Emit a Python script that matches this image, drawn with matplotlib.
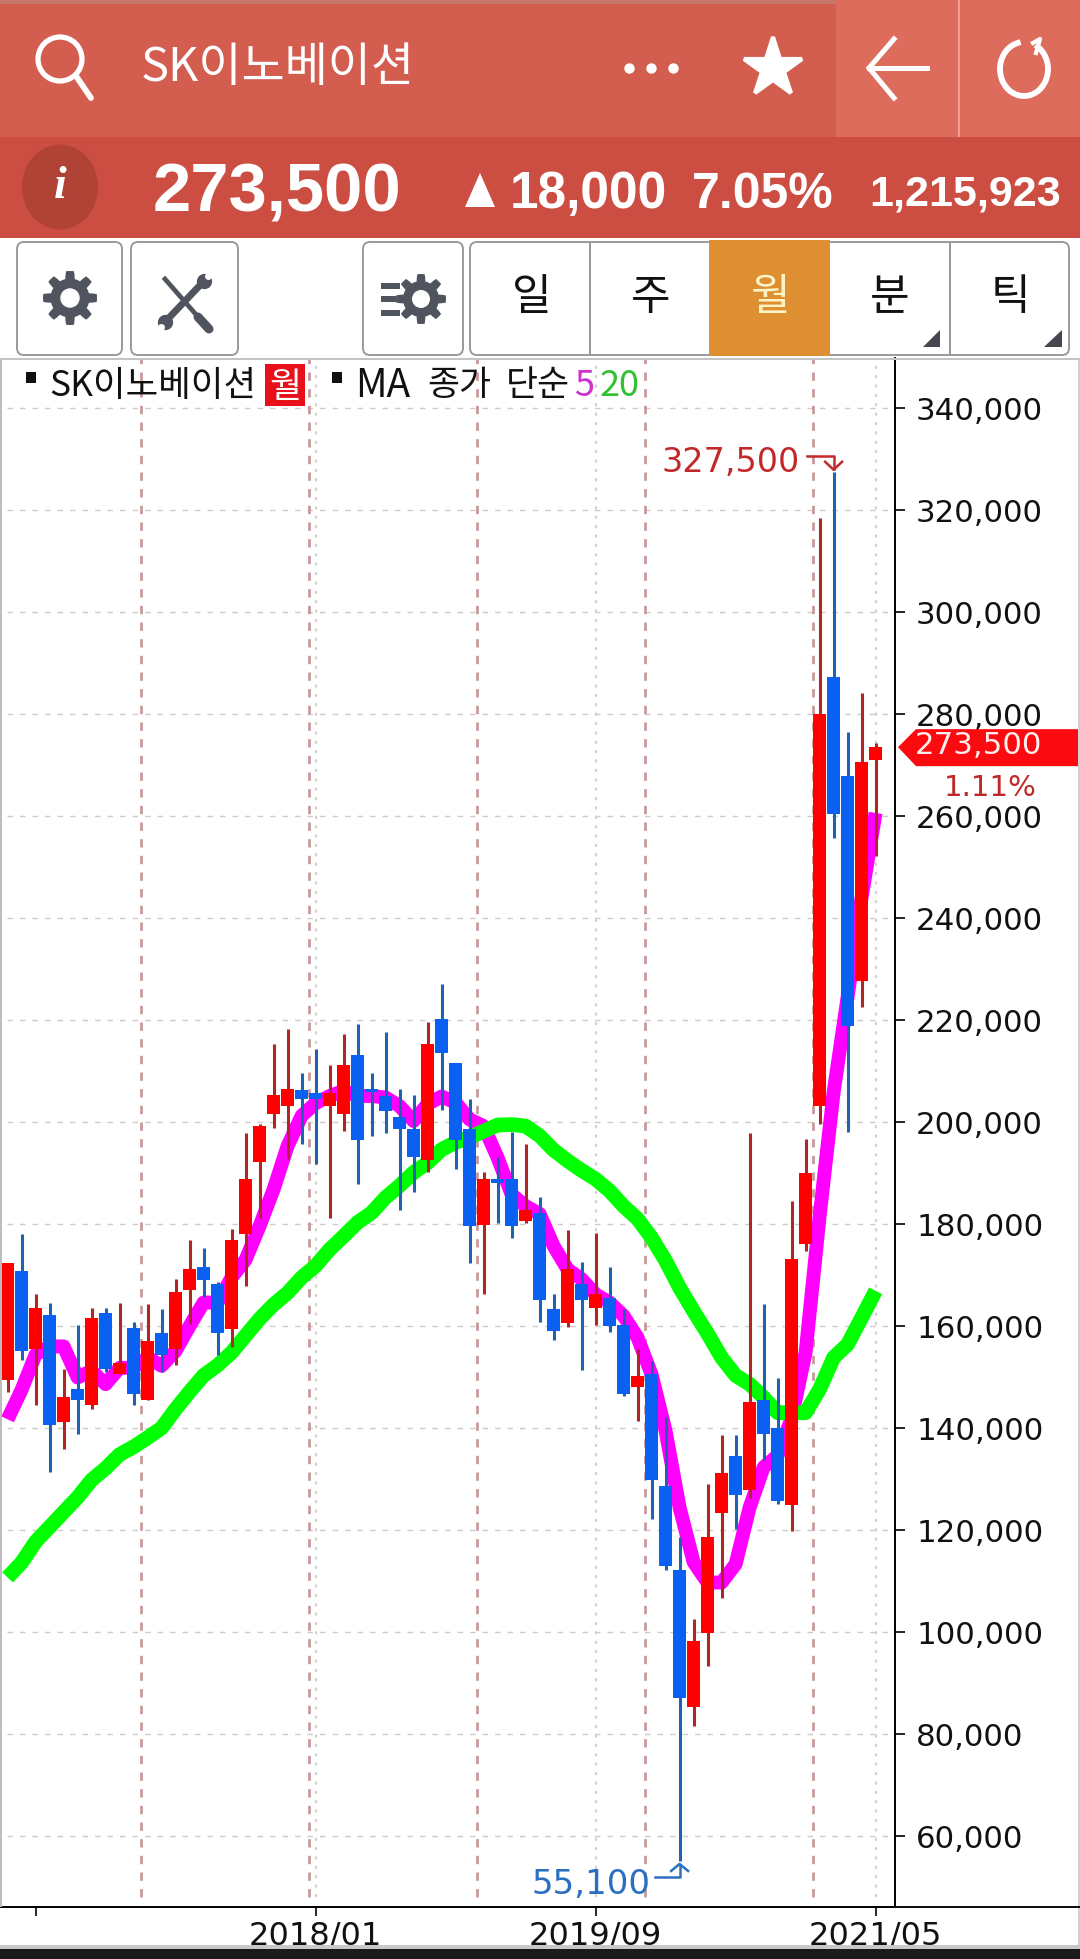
#!/usr/bin/env python
#monthly candle chart screen, SK innovation

import numpy as np
from matplotlib import pyplot as plt
from matplotlib.patches import Rectangle,Polygon,FancyBboxPatch,Circle,Ellipse

plt.rcParams['font.family']=['Noto Sans CJK KR','DejaVu Sans']

#data
idx=list(range(63))
opens=[149500,170700,155400,162200,141200,147700,144500,162600,150500,159700,145500,158700,155400,167100,171600,168200,
159500,178000,192200,201600,203100,206200,205600,203100,201600,213200,206500,205100,201000,198700,192500,220100,
211600,198700,179900,188800,188800,180500,182200,163300,160500,168200,163500,165400,160100,148000,150500,128600,
112100,85200,99800,123400,134500,127900,145400,140000,125000,176000,203100,287300,267900,227600,270900]
closes=[172300,155100,163600,140600,146100,145500,161600,151500,152800,146600,157100,154400,166700,171100,169000,158700,
176800,188800,199200,205200,206500,204500,204500,205600,211100,196500,205900,202200,198600,193200,215200,213600,
196500,179600,188800,188100,179600,182700,165100,159000,171100,165100,166200,160000,146600,150100,129900,113000,
87000,98300,118600,131200,126900,145100,138900,125600,173100,190000,280000,260400,218900,270600,273500]
highs=[172300,178100,166200,164600,151600,160100,163600,163600,164600,160700,164300,163300,169200,176800,175200,168700,
179100,197800,199700,215200,218200,209700,214300,211100,217200,219200,209700,217700,206500,205200,219700,227100,
211600,204600,190100,193200,198000,195600,185200,166200,178800,172600,178200,171600,163300,155400,153200,142100,
118600,102500,129000,138700,138700,197800,164400,149900,184600,196600,318400,327500,276400,284100,274400]
lows=[147000,153300,144600,131400,135900,138800,143700,150900,150500,144600,145500,150900,152300,160300,165600,154300,
155800,167800,181200,198800,192700,195600,191700,181200,198200,187800,197300,197900,182800,186300,190200,202400,
190700,172400,166200,180100,177300,180100,160800,157300,159900,151400,160100,158800,146300,141400,122200,112200,
55100,81600,93300,106600,120100,126300,133700,125100,119800,174700,199600,255600,198100,222600,252100]
ma5=[141700,147500,154400,156000,156000,149900,151200,148600,151800,151800,153800,152200,155100,160000,164600,164600,
169500,173000,179600,186800,195300,201200,203700,205100,206100,205100,205100,204800,203100,200200,203500,205000,
203800,200500,199200,193000,185800,183500,182000,175700,171100,169200,166200,164600,162000,157700,150500,139400,
124400,113700,109700,109700,113300,124400,132300,134600,141900,154800,181500,205800,224500,244000,260600]
ma20=[110700,113600,117700,120600,123500,126400,129800,132100,134800,136300,138100,140000,143700,147100,150300,152300,
154800,158100,161400,164200,166500,169500,171800,175000,177600,180300,182200,185200,187500,190100,192000,194600,
196000,197000,198200,199400,199500,199200,197300,194500,192400,190500,188800,186500,183500,181000,177300,172800,
167500,162900,158500,153800,150300,148600,146000,143000,143000,143000,147600,153800,156400,161600,166900]
yticks=list(range(60000,340001,20000))
xtick_pos=[2,22,42,62]
xtick_labels=['','2018/01','2019/09','2021/05']
year_lines=[9.5,21.5,33.5,45.5,57.5]
last_price=273500
high_label='327,500'
low_label='55,100'

#picture geometry in pixels
W=1080
H=1959
X0=7.6    #pixel of candle 0
DX=14.0   #pixels per candle
AXR=895   #right axis line
AXT=358   #chart top
AXB=1907  #chart bottom
PPK=5.1   #pixels per 1000 won
def px_x(i):
	return X0+DX*i
def px_y(v):
	return 1122-(v-200000)/1000*PPK

fig=plt.figure(figsize=(W/100,H/100),dpi=100,facecolor='white')

#chart
ax=fig.add_axes([0,1-AXB/H,AXR/W,(AXB-AXT)/H])
ax.set_xlim(-X0/DX,(AXR-X0)/DX)
ytop=200000+(1122-AXT)/PPK*1000
ybot=200000+(1122-AXB)/PPK*1000
ax.set_ylim(ybot,ytop)
ax.hlines(yticks,-0.04,(AXR-X0)/DX,color='#d0caca',lw=1,linestyle=(0,(4,5)),zorder=1)
ax.vlines(year_lines,ybot+2000,ytop,color='#c99a9a',lw=2,linestyle=(0,(3,3)),zorder=1)
ax.vlines(xtick_pos[1:],ybot+2000,ytop,color='#d4d0d0',lw=1.5,linestyle=(0,(1.5,3)),zorder=1)

ax.plot(idx,ma5,color='#ff00ff',lw=10,solid_capstyle='butt',solid_joinstyle='round',zorder=2)
ax.plot(idx,ma20,color='#00ff00',lw=10.6,solid_capstyle='butt',solid_joinstyle='round',zorder=3)

for i in idx:
	up=closes[i]>=opens[i]
	body='#ff0000' if up else '#0a60f0'
	wick='#b02525' if up else '#1f62b0'
	ax.vlines(i,lows[i],highs[i],color=wick,lw=2.2,zorder=4)
	ax.bar(i,abs(closes[i]-opens[i]),bottom=min(opens[i],closes[i]),width=0.9,color=body,lw=0,zorder=5)

ax.yaxis.tick_right()
ax.set_yticks(yticks)
ax.set_yticklabels([format(v,',') for v in yticks],fontsize=22.2,family='DejaVu Sans',color='#111111')
ax.set_xticks(xtick_pos)
ax.set_xticklabels(xtick_labels,fontsize=23,family='DejaVu Sans',color='#111111')
ax.tick_params(axis='y',length=7.2,width=1.2,pad=8)
ax.tick_params(axis='x',length=6.5,width=1.2,pad=3)
ax.get_xticklines()[6].set_color('#888888')
for s in ['left','top']:
	ax.spines[s].set_visible(False)
for s in ['right','bottom']:
	ax.spines[s].set_linewidth(1.4)

#overlay in picture pixels for the app screen
ui=fig.add_axes([0,0,1,1],zorder=10)
ui.set_xlim(0,W)
ui.set_ylim(H,0)
ui.axis('off')
ui.patch.set_alpha(0)

def rect(x0,y0,x1,y1,c,z=1):
	ui.add_patch(Rectangle((x0,y0),x1-x0,y1-y0,fc=c,ec='none',zorder=z))
def txt(x,y,s,size,c='white',ha='center',**kw):
	ui.text(x,y,s,fontsize=size,color=c,ha=ha,va='center',zorder=5,**kw)
def gear(cx,cy,r,teeth=8):
	a=np.linspace(0,2*np.pi,teeth*16,endpoint=False)
	rr=r*(0.86+0.14*np.clip(3.2*np.cos(teeth*a),-1,1))
	ui.add_patch(Polygon(np.c_[cx+rr*np.cos(a),cy+rr*np.sin(a)],fc='#50545f',ec='none',zorder=3))
	ui.add_patch(Circle((cx,cy),r*0.36,fc='white',ec='none',zorder=4))

#header
rect(0,0,W,137,'#d35d4f')
rect(0,0,W,4,'#c7776b',2)
rect(836,0,W,137,'#de6c5c',2)
rect(958,0,960,137,'#ee9f93',3)
rect(0,137,W,238,'#cc4d41')
ui.add_patch(Circle((60,59),22,fc='none',ec='white',lw=3.8,zorder=3))
ui.plot([76,91],[76,98],color='white',lw=4.2,solid_capstyle='round',zorder=3)
txt(141,68,'SK이노베이션',33.8,ha='left')
ui.plot([629,651,673],[68,68,68],'o',color='white',ms=7.5,mew=0,zorder=3)
ui.plot([773],[68],'*',color='white',ms=44,mew=3,mec='white',zorder=3)
ui.plot([894,869,894],[39,68,98],color='white',lw=3.6,solid_joinstyle='miter',zorder=3)
ui.plot([869,927],[68,68],color='white',lw=3.6,zorder=3)
t=np.radians(np.linspace(-55,255,80))
ui.plot(1024+24*np.cos(t),69+27*np.sin(t),color='white',lw=4.2,zorder=3)
ui.plot([1033,1040,1036],[43,39,53],color='white',lw=3,zorder=3)

#price row
ui.add_patch(Ellipse((60,187),76,85,fc='#b04236',ec='none',zorder=3))
ui.text(60,187,'i',fontsize=33,color='white',ha='center',va='center',family='Liberation Serif',style='italic',weight='bold',zorder=5)
txt(153,194,format(last_price,','),49.5,ha='left',family='Liberation Sans',weight='bold')
ui.add_patch(Polygon([(465,207),(480,173),(495,207)],fc='white',ec='none',zorder=3))
txt(510,195,'18,000',37,ha='left',family='Liberation Sans',weight='bold')
txt(692,195,'7.05%',36,ha='left',family='Liberation Sans',weight='bold')
txt(869,195,'1,215,923',31,ha='left',family='Liberation Sans',weight='bold')

#toolbar
for x0,x1 in [(17,122),(131,238),(363,463),(470,1069)]:
	ui.add_patch(FancyBboxPatch((x0+4,246),x1-x0-8,105,boxstyle='round,pad=4,rounding_size=7',fc='white',ec='#9a9a9a',lw=1.4,zorder=2))
rect(709,240,830,356,'#de8f31',3)
rect(589,242,590.5,355,'#9a9a9a',3)
rect(949,242,950.5,355,'#9a9a9a',3)
gear(70,298,27)
gear(421,299,25)
for y,x1 in [(286,400),(299,396),(313,400)]:
	rect(381,y-3,x1,y+3,'#50545f',3)
ui.plot([165,206],[279,326],color='#50545f',lw=3.4,zorder=3)
ui.plot([198,209],[317,329],color='#50545f',lw=6.5,solid_capstyle='round',zorder=3)
ui.plot([205,165],[280,322],color='#50545f',lw=5,zorder=3)
ui.plot([204],[281],'o',color='#50545f',ms=11,mew=0,zorder=3)
ui.plot([165],[322],'o',color='#50545f',ms=11,mew=0,zorder=3)
ui.plot([208],[276],'o',color='white',ms=5,mew=0,zorder=4)
ui.plot([161],[327],'o',color='white',ms=5,mew=0,zorder=4)
for x,s,c in [(532,'일','#111111'),(651,'주','#111111'),(771,'월','#fdf3c5'),(890,'분','#111111'),(1010,'틱','#111111')]:
	txt(x,298,s,31,c)
ui.add_patch(Polygon([(940,330),(940,347),(923,347)],fc='#45464e',ec='none',zorder=3))
ui.add_patch(Polygon([(1062,330),(1062,347),(1044,347)],fc='#45464e',ec='none',zorder=3))

#legend row
rect(0,358,W,360,'#c4c4c4',1)
rect(26,372,36,383,'#111111',3)
txt(49,386,'SK이노베이션',25.5,'#111111',ha='left')
rect(265,364,305,406,'#e8101a',3)
txt(285,387,'월',25)
rect(332,372,342,383,'#111111',3)
txt(355,386,'MA',28,'#111111',ha='left')
txt(427,386,'종가',25,'#111111',ha='left')
txt(506,386,'단순',25,'#111111',ha='left')
txt(574,386,'5',26,'#d030d0',ha='left')
txt(600,386,'20',26,'#30c030',ha='left')

#price tag on the last close
tag=px_y(last_price)
ui.add_patch(Polygon([(898,tag),(916,tag-18),(1078,tag-18),(1078,tag+19),(916,tag+19)],fc='#fb0a10',ec='none',zorder=3))
txt(978,tag-2,format(last_price,','),22.2,'#ffeeee',family='DejaVu Sans')
txt(990,788,'1.11%',21,'#c02828',family='DejaVu Sans')

#high and low marks
hx=px_x(highs.index(max(highs)))
hy=px_y(max(highs))
txt(800,462,high_label,24,'#c3282a',ha='right',family='DejaVu Sans')
ui.plot([807,hx,hx],[hy-16,hy-16,hy-3],color='#c3282a',lw=1.8,zorder=4)
ui.plot([hx-8.5,hx,hx+8.5],[hy-10,hy-2,hy-10],color='#c3282a',lw=1.8,zorder=4)
lx=px_x(lows.index(min(lows)))
ly=px_y(min(lows))
txt(650,1884,low_label,24.5,'#2a6fc0',ha='right',family='DejaVu Sans')
ui.plot([655,lx,lx],[ly+16,ly+16,ly+4],color='#2a6fc0',lw=1.8,zorder=4)
ui.plot([lx-8.5,lx,lx+8.5],[ly+10,ly+3,ly+10],color='#2a6fc0',lw=1.8,zorder=4)

#edges
rect(0,360,2,1907,'#bdbdbd',2)
rect(1078,360,1080,1945,'#d0d0d0',2)
rect(AXR,AXB-1,W,AXB+1,'#111111',2)
rect(0,1945,W,1949,'#c8c8c8',2)
rect(0,1949,W,H,'#1a1a1a',2)

fig.savefig('out.png',dpi=100)
